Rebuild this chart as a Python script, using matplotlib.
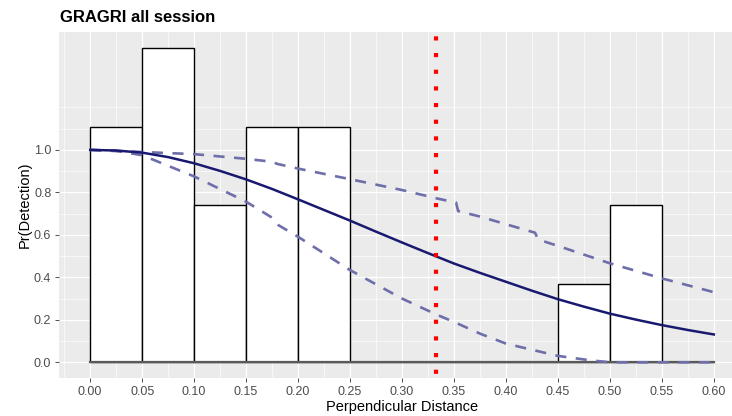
import numpy as np
import matplotlib
matplotlib.use("Agg")
import matplotlib.pyplot as plt

plt.rcParams['font.family'] = ['Liberation Sans', 'DejaVu Sans']

# histogram (scaled counts) per 0.05 distance bin
bin_left = [0.00, 0.05, 0.10, 0.15, 0.20, 0.25, 0.30, 0.35, 0.40, 0.45, 0.50, 0.55]
bin_height = [1.108, 1.478, 0.739, 1.108, 1.108, 0, 0, 0, 0, 0.369, 0.739, 0]

# fitted detection function
fit_x = [0.0, 0.025, 0.05, 0.075, 0.1, 0.125, 0.15, 0.175, 0.2, 0.225, 0.25, 0.275,
         0.3, 0.325, 0.35, 0.375, 0.4, 0.425, 0.45, 0.475, 0.5, 0.525, 0.55, 0.575, 0.6]
fit_y = [1.0, 0.997, 0.987, 0.966, 0.937, 0.901, 0.861, 0.816, 0.767, 0.717, 0.667, 0.615,
         0.564, 0.514, 0.465, 0.421, 0.379, 0.337, 0.297, 0.262, 0.229, 0.201, 0.175, 0.152, 0.131]

# upper / lower confidence bands
up_x = [0, 0.05, 0.1, 0.15, 0.175, 0.18, 0.2, 0.25, 0.3, 0.333, 0.352, 0.354,
        0.375, 0.4, 0.428, 0.431, 0.45, 0.5, 0.55, 0.6]
up_y = [1.0, 0.99, 0.98, 0.958, 0.944, 0.934, 0.912, 0.862, 0.811, 0.772, 0.752, 0.712,
        0.686, 0.65, 0.61, 0.578, 0.548, 0.466, 0.395, 0.33]
lo_x = [0, 0.025, 0.05, 0.065, 0.1, 0.15, 0.176, 0.181, 0.2, 0.25, 0.3, 0.333,
        0.35, 0.375, 0.4, 0.45, 0.48, 0.5, 0.55, 0.6]
lo_y = [1.0, 0.995, 0.975, 0.945, 0.875, 0.756, 0.678, 0.646, 0.591, 0.434, 0.3, 0.225,
        0.19, 0.135, 0.088, 0.03, 0.01, 0.0, 0.0, 0.0]

cutoff = 0.333
x_ticks = np.round(np.arange(0, 0.6001, 0.05), 2)
y_ticks = [0.0, 0.2, 0.4, 0.6, 0.8, 1.0]

fig = plt.figure(figsize=(7.32, 4.16), dpi=100)
ax = fig.add_axes([59 / 732, 1 - 378 / 416, 686 / 732, 346 / 416])
ax.set_facecolor('#EBEBEB')
for s in ax.spines.values():
    s.set_visible(False)

# ggplot-like grid
for xm in np.arange(-0.025, 0.63, 0.025):
    ax.axvline(xm, color='white', lw=0.45, zorder=0)
for ym in [0.1, 0.3, 0.5, 0.7, 0.9, 1.1, 1.2]:
    ax.axhline(ym, color='white', lw=0.45, zorder=0)
for xm in x_ticks:
    ax.axvline(xm, color='white', lw=0.9, zorder=0)
for ym in y_ticks:
    ax.axhline(ym, color='white', lw=0.9, zorder=0)

ax.bar(bin_left, bin_height, width=0.05, align='edge', color='white',
       edgecolor='black', linewidth=1.0, zorder=2)
ax.plot([0, 0.6], [0, 0], color='#5a5a5a', lw=1.6, zorder=3)

ax.plot(up_x, up_y, color='#6e6eaa', lw=1.9, dashes=(4.2, 3.6), zorder=4)
ax.plot(lo_x, lo_y, color='#6e6eaa', lw=1.9, dashes=(4.2, 3.6), zorder=4)
ax.plot(fit_x, fit_y, color='#191970', lw=1.8, zorder=5)
ax.axvline(cutoff, color='red', lw=3.0, linestyle=(3.0, (1, 3.0)),
           dash_capstyle='butt', zorder=6)

ax.set_xlim(-0.03, 0.63)
ax.set_ylim(-0.074, 1.555)
ax.set_xticks(x_ticks)
ax.set_xticklabels(['%.2f' % v for v in x_ticks])
ax.set_yticks(y_ticks)
ax.set_yticklabels(['%.1f' % v for v in y_ticks])
ax.tick_params(axis='both', length=3, width=0.6, color='#333333',
               labelcolor='#4D4D4D', labelsize=9, pad=2.5)

ax.set_xlabel('Perpendicular Distance', fontsize=10.5, color='black')
ax.set_ylabel('Pr(Detection)', fontsize=10.5, color='black')
ax.xaxis.set_label_coords((402 - 59) / 686, -(400 - 378) / 346)
ax.yaxis.set_label_coords(-(59 - 32) / 686, 0.5)

fig.text(60 / 732, 1 - 17 / 416, 'GRAGRI all session', fontsize=12,
         fontweight='bold', va='center', ha='left')

fig.savefig('out.png', dpi=100)
